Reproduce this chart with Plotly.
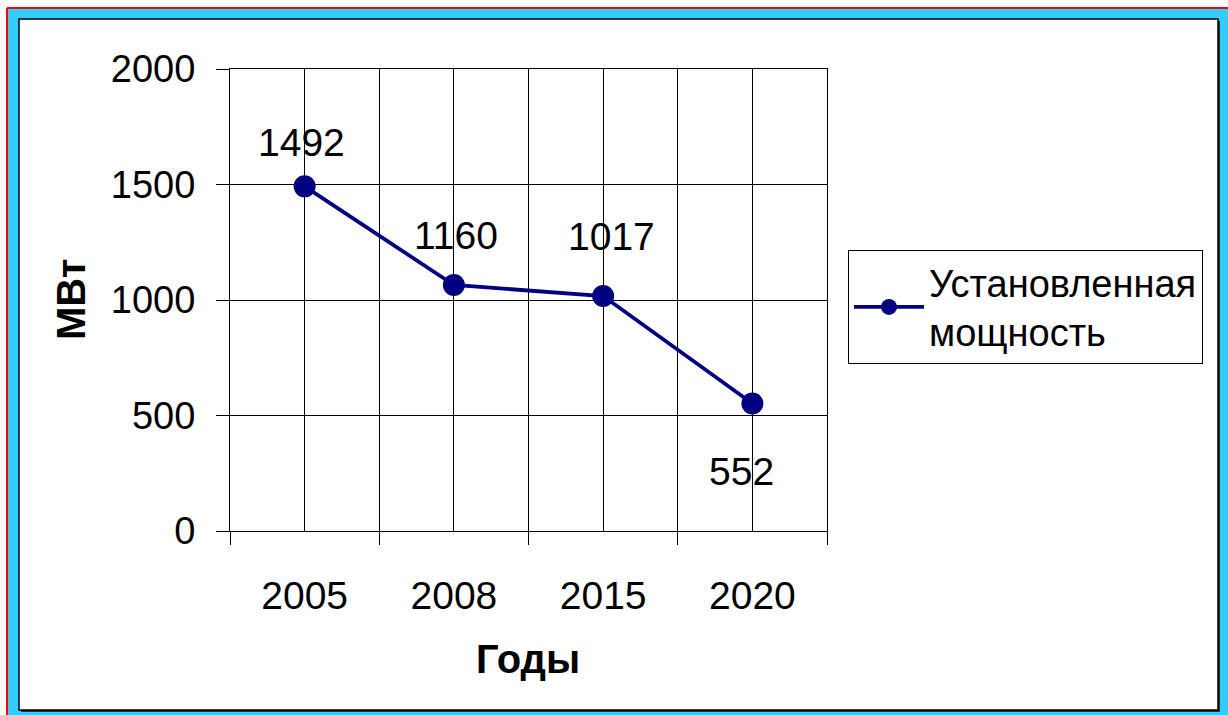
import plotly.graph_objects as go

# ---- data ----
years = ["2005", "2008", "2015", "2020"]
capacity = [1492, 1065, 1017, 552]          # plotted positions
capacity_labels = ["1492", "1160", "1017", "552"]  # data labels as printed
series_name = "Установленная<br>мощность"
y_ticks = [0, 500, 1000, 1500, 2000]

# ---- layout geometry (pixels) ----
FW, FH = 1228, 715
L, R, T, B = 230, 827, 69, 531
PW, PH = R - L, B - T

def px_x(px):
    return (px - L) / PW

def px_y(py):
    return (B - py) / PH

FONT = "Liberation Sans, Arial, sans-serif"
NAVY = "#000080"

xs = list(range(len(years)))

fig = go.Figure()
fig.add_trace(go.Scatter(
    x=xs, y=capacity, mode="lines+markers", name=series_name,
    line=dict(color=NAVY, width=3.8),
    marker=dict(color=NAVY, size=22, line=dict(width=0)),
    hoverinfo="skip",
))

# data labels (offsets in px relative to point)
label_shift = [(-3, 44), (2, 49), (8, 60), (-11, -68)]
for xi, yv, txt, (dx, dy) in zip(xs, capacity, capacity_labels, label_shift):
    fig.add_annotation(x=xi, y=yv, text=txt, showarrow=False,
                       xanchor="center", yanchor="middle",
                       xshift=dx, yshift=dy,
                       font=dict(family=FONT, size=39, color="black"))

# axis titles
fig.add_annotation(xref="paper", yref="paper", x=px_x(71), y=px_y(300),
                   xanchor="center", yanchor="middle",
                   text="<b>МВт</b>", textangle=-90, showarrow=False,
                   font=dict(family=FONT, size=40, color="black"))
fig.add_annotation(xref="paper", yref="paper", x=px_x(528), y=px_y(659),
                   xanchor="center", yanchor="middle",
                   text="<b>Годы</b>", showarrow=False,
                   font=dict(family=FONT, size=40, color="black"))

shapes = [
    # cyan frame with red top/left edge
    dict(type="rect", xref="paper", yref="paper", layer="below",
         x0=px_x(8), x1=px_x(FW + 5), y0=px_y(FH + 5), y1=px_y(8),
         fillcolor="#33CCFF", line=dict(width=0)),
    dict(type="line", xref="paper", yref="paper", layer="below",
         x0=px_x(7), x1=px_x(FW + 5), y0=px_y(8), y1=px_y(8),
         line=dict(color="#FF0000", width=2)),
    dict(type="line", xref="paper", yref="paper", layer="below",
         x0=px_x(7), x1=px_x(7), y0=px_y(8), y1=px_y(FH + 5),
         line=dict(color="#FF0000", width=2)),
    # shadow
    dict(type="rect", xref="paper", yref="paper", layer="below",
         x0=px_x(21), x1=px_x(1220), y0=px_y(712), y1=px_y(21),
         fillcolor="#303030", line=dict(width=0)),
    # white chart area
    dict(type="rect", xref="paper", yref="paper", layer="below",
         x0=px_x(19), x1=px_x(1218), y0=px_y(710), y1=px_y(19),
         fillcolor="white", line=dict(color="black", width=1.5)),
]

fig.update_layout(
    width=FW, height=FH,
    margin=dict(l=L, r=FW - R, t=T, b=FH - B, pad=0),
    paper_bgcolor="white",
    plot_bgcolor="#C0C0C0",
    font=dict(family=FONT, size=38, color="black"),
    shapes=shapes,
    showlegend=True,
    legend=dict(
        x=px_x(848), y=px_y(250), xanchor="left", yanchor="top",
        bgcolor="white", bordercolor="black", borderwidth=1,
        font=dict(family=FONT, size=38, color="black"),
        itemwidth=70,
    ),
    xaxis=dict(
        range=[-0.5, len(years) - 0.5],
        tickmode="array", tickvals=xs, ticktext=years,
        ticks="", showgrid=True, gridcolor="black", gridwidth=1,
        showline=True, linecolor="black", linewidth=1, mirror=True,
        zeroline=False,
        ticklabelstandoff=30,
        tickfont=dict(family=FONT, size=39),
        minor=dict(tickmode="array",
                   tickvals=[i - 0.5 for i in range(len(years) + 1)],
                   ticks="outside", ticklen=13, tickcolor="black", tickwidth=1,
                   showgrid=True, gridcolor="black", gridwidth=1),
        fixedrange=True,
    ),
    yaxis=dict(
        range=[0, 2000], tickmode="array", tickvals=y_ticks,
        ticks="outside", ticklen=13, tickcolor="black", tickwidth=1,
        showgrid=True, gridcolor="black", gridwidth=1,
        showline=True, linecolor="black", linewidth=1, mirror=True,
        zeroline=False,
        ticklabelstandoff=13,
        tickfont=dict(family=FONT, size=38),
        fixedrange=True,
    ),
)

fig.write_html("out.html", config={"displayModeBar": False},
               post_script="document.body.style.margin='0';document.body.style.overflow='hidden';")
